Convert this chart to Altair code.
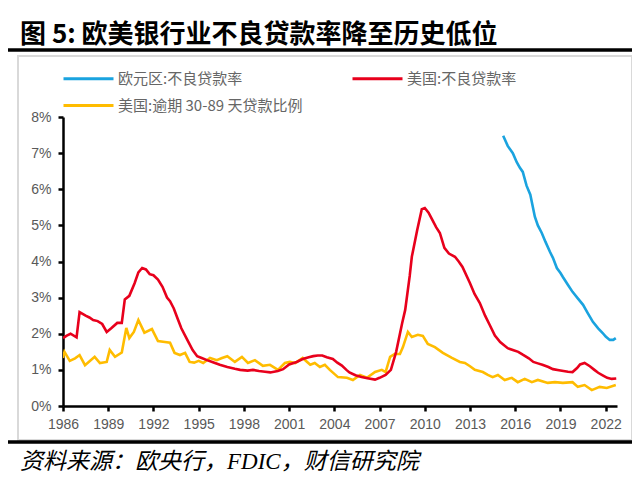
import altair as alt
import pandas as pd

TITLE = "图 5:  欧美银行业不良贷款率降至历史低位"
SOURCE = "资料来源：欧央行，FDIC，财信研究院"

S_EU = "欧元区:不良贷款率"
S_US = "美国:不良贷款率"
S_PD = "美国:逾期 30-89 天贷款比例"

# Euro area NPL ratio (%)
eu_year = [2015.2, 2015.5, 2015.84, 2016.1, 2016.3, 2016.5, 2016.75, 2017.0, 2017.3, 2017.5,
           2017.76, 2018.0, 2018.3, 2018.5, 2018.76, 2019.0, 2019.16, 2019.5, 2019.8, 2020.15,
           2020.5, 2020.8, 2021.15, 2021.5, 2021.8, 2022.0, 2022.27, 2022.5, 2022.67]
eu_val = [7.48, 7.2, 7.0, 6.75, 6.6, 6.48, 6.1, 5.85, 5.24, 5.0,
          4.79, 4.55, 4.27, 4.1, 3.82, 3.68, 3.57, 3.35, 3.16, 2.98,
          2.8, 2.58, 2.33, 2.15, 2.02, 1.92, 1.83, 1.83, 1.88]

# US NPL ratio (%)
us_year = [1986.0, 1986.25, 1986.5, 1986.9, 1987.1, 1987.5, 1987.75, 1988.0, 1988.3, 1988.6,
           1988.9, 1989.2, 1989.6, 1989.9, 1990.1, 1990.4, 1990.75, 1991.0, 1991.25, 1991.5,
           1991.75, 1992.0, 1992.3, 1992.6, 1992.9, 1993.1, 1993.35, 1993.6, 1993.85, 1994.1,
           1994.35, 1994.6, 1994.9, 1995.2, 1995.55, 1995.9, 1996.4, 1996.9, 1997.4, 1997.75,
           1998.25, 1998.6, 1999.0, 1999.4, 1999.75, 2000.25, 2000.6, 2001.0, 2001.5, 2001.9,
           2002.3, 2002.6, 2002.9, 2003.2, 2003.5, 2003.9, 2004.2, 2004.5, 2004.8, 2005.0,
           2005.4, 2005.8, 2006.2, 2006.7, 2007.0, 2007.4, 2007.75, 2008.1, 2008.5, 2008.7,
           2009.0, 2009.14, 2009.5, 2009.8, 2010.0, 2010.25, 2010.5, 2010.75, 2011.0, 2011.3,
           2011.6, 2012.0, 2012.25, 2012.5, 2013.0, 2013.3, 2013.65, 2014.0, 2014.3, 2014.65,
           2015.0, 2015.5, 2015.84, 2016.2, 2016.5, 2016.9, 2017.2, 2017.5, 2017.8, 2018.2,
           2018.5, 2018.9, 2019.2, 2019.5, 2019.8, 2020.1, 2020.3, 2020.6, 2020.95, 2021.25,
           2021.5, 2021.8, 2022.1, 2022.4, 2022.7]
us_val = [1.88, 1.95, 2.0, 1.9, 2.6, 2.5, 2.45, 2.38, 2.35, 2.27,
          2.05, 2.15, 2.3, 2.3, 2.95, 3.05, 3.4, 3.7, 3.82, 3.78,
          3.65, 3.62, 3.5, 3.3, 3.0, 2.9, 2.7, 2.42, 2.15, 1.95,
          1.75, 1.55, 1.38, 1.33, 1.27, 1.22, 1.14, 1.08, 1.03, 1.0,
          0.98, 1.0, 0.97, 0.95, 0.93, 0.97, 1.02, 1.15, 1.22, 1.3,
          1.35, 1.38, 1.4, 1.4, 1.35, 1.3, 1.2, 1.12, 1.0, 0.93,
          0.85, 0.8, 0.77, 0.73, 0.78, 0.86, 1.0, 1.5, 2.3, 2.66,
          3.6, 4.13, 4.88, 5.45, 5.48, 5.35, 5.15, 4.95, 4.79, 4.38,
          4.22, 4.13, 4.0, 3.85, 3.4, 3.1, 2.85, 2.5, 2.25, 1.95,
          1.77, 1.6, 1.55, 1.5, 1.42, 1.32, 1.22, 1.18, 1.14, 1.08,
          1.02, 0.99, 0.97, 0.95, 0.94, 1.05, 1.15, 1.19, 1.1, 1.0,
          0.92, 0.85, 0.78, 0.75, 0.76]

# US 30-89 days past due ratio (%)
pd_year = [1986.0, 1986.1, 1986.45, 1986.8, 1987.1, 1987.46, 1987.8, 1988.1, 1988.45, 1988.9,
           1989.1, 1989.45, 1989.9, 1990.2, 1990.4, 1990.7, 1991.0, 1991.4, 1991.9, 1992.3,
           1992.76, 1993.1, 1993.4, 1993.76, 1994.1, 1994.4, 1994.7, 1995.0, 1995.3, 1995.75,
           1996.2, 1996.55, 1996.9, 1997.4, 1997.87, 1998.27, 1998.73, 1999.26, 1999.73, 2000.26,
           2000.72, 2001.05, 2001.4, 2001.9, 2002.4, 2002.7, 2003.04, 2003.37, 2003.7, 2004.24,
           2004.83, 2005.23, 2005.7, 2006.16, 2006.7, 2007.15, 2007.4, 2007.7, 2008.0, 2008.35,
           2008.55, 2008.88, 2009.14, 2009.54, 2009.87, 2010.2, 2010.67, 2011.2, 2011.8, 2012.33,
           2012.66, 2013.0, 2013.32, 2013.85, 2014.18, 2014.5, 2014.85, 2015.3, 2015.77, 2016.17,
           2016.63, 2017.1, 2017.5, 2018.16, 2018.63, 2019.16, 2019.8, 2020.15, 2020.6, 2021.08,
           2021.6, 2022.07, 2022.67]
pd_val = [1.33, 1.5, 1.25, 1.32, 1.41, 1.13, 1.25, 1.36, 1.19, 1.22,
          1.55, 1.36, 1.48, 2.16, 1.88, 2.05, 2.38, 2.03, 2.13, 1.8,
          1.77, 1.75, 1.47, 1.41, 1.47, 1.22, 1.2, 1.25, 1.19, 1.33,
          1.27, 1.33, 1.38, 1.22, 1.36, 1.19, 1.27, 1.11, 1.14, 1.0,
          1.19, 1.22, 1.19, 1.33, 1.14, 1.19, 1.08, 1.14, 1.0, 0.8,
          0.78, 0.72, 0.86, 0.78, 0.94, 1.0, 0.94, 1.36, 1.44, 1.44,
          1.63, 2.05, 1.91, 1.97, 1.94, 1.72, 1.63, 1.47, 1.33, 1.22,
          1.19, 1.1, 1.0, 0.94, 0.86, 0.8, 0.86, 0.72, 0.78, 0.66,
          0.75, 0.66, 0.72, 0.64, 0.66, 0.64, 0.66, 0.53, 0.58, 0.44,
          0.53, 0.5, 0.58]

x_ticks = list(range(1986, 2023, 3))
y_ticks = [0, 1, 2, 3, 4, 5, 6, 7, 8]

# legend fills column by column: EU, PD in column 1; US in column 2
series_order = [S_EU, S_PD, S_US]
colors = ["#1AA3DF", "#FFBC00", "#E8001C"]

df = pd.concat([
    pd.DataFrame({"year": eu_year, "value": eu_val, "series": S_EU}),
    pd.DataFrame({"year": pd_year, "value": pd_val, "series": S_PD}),
    pd.DataFrame({"year": us_year, "value": us_val, "series": S_US}),
], ignore_index=True)
df["order"] = df["series"].map({s: i for i, s in enumerate(series_order)})

AXIS_FONT = "Liberation Sans"
CJK = "Noto Sans CJK SC"

lines = alt.Chart(df).mark_line(strokeWidth=2.6, clip=True).encode(
    x=alt.X("year:Q", scale=alt.Scale(domain=[1986, 2022.75], nice=False, zero=False),
            axis=alt.Axis(values=x_ticks, format="d", title=None, grid=False,
                          domainColor="black", domainWidth=2.5, tickColor="black",
                          tickWidth=2.5, tickSize=5, labelColor="#595959",
                          labelFont=AXIS_FONT, labelFontSize=14, labelPadding=6,
                          labelOverlap=False, labelFlush=False)),
    y=alt.Y("value:Q", scale=alt.Scale(domain=[0, 8], nice=False),
            axis=alt.Axis(values=y_ticks, labelExpr="datum.value + '%'", title=None,
                          grid=False, domainColor="black", domainWidth=2.5,
                          tickColor="black", tickWidth=2.5, tickSize=5,
                          labelColor="#595959", labelFont=AXIS_FONT, labelFontSize=14,
                          labelPadding=7, labelOverlap=False, labelFlush=False)),
    color=alt.Color("series:N", scale=alt.Scale(domain=series_order, range=colors),
                    legend=alt.Legend(orient="none", legendX=-1, legendY=-50, columns=2,
                                      title=None, symbolType="M-1,0H4", symbolSize=400,
                                      symbolStrokeWidth=3, labelFont=CJK, labelFontSize=15,
                                      labelColor="#666666", labelOffset=33,
                                      columnPadding=43, rowPadding=7, padding=0,
                                      labelLimit=400)),
    detail="order:O",
)

one = pd.DataFrame({"t": [TITLE]})
title = alt.Chart(one).mark_text(align="left", baseline="middle", font=CJK,
                                 fontSize=26, fontWeight="bold", color="black").encode(
    text="t:N", x=alt.value(-43), y=alt.value(-82))

src = alt.Chart(pd.DataFrame({"t": [SOURCE]})).mark_text(
    align="left", baseline="middle", font="Liberation Serif, Noto Sans CJK SC",
    fontSize=23, fontStyle="italic", color="black").encode(
    text="t:N", x=alt.value(-43), y=alt.value(345))

frame = alt.Chart(one).mark_rect(fill="white", fillOpacity=0, stroke="#D9D9D9",
                                 strokeWidth=2).encode(
    x=alt.value(-45), x2=alt.value(569), y=alt.value(-61), y2=alt.value(323))

rule_top = alt.Chart(one).mark_rule(color="black", strokeWidth=3.5).encode(
    x=alt.value(-60), x2=alt.value(575), y=alt.value(-67))
rule_bot = alt.Chart(one).mark_rule(color="black", strokeWidth=3.5).encode(
    x=alt.value(-60), x2=alt.value(575), y=alt.value(325))

chart = alt.layer(frame, rule_top, rule_bot, title, src, lines).properties(
    width=554, height=289, autosize="none",
    padding={"left": 55, "top": 109, "right": 15, "bottom": 68},
    background="white",
).configure_view(stroke=None)

chart.save("out.html", embed_options={"renderer": "svg", "actions": False})
